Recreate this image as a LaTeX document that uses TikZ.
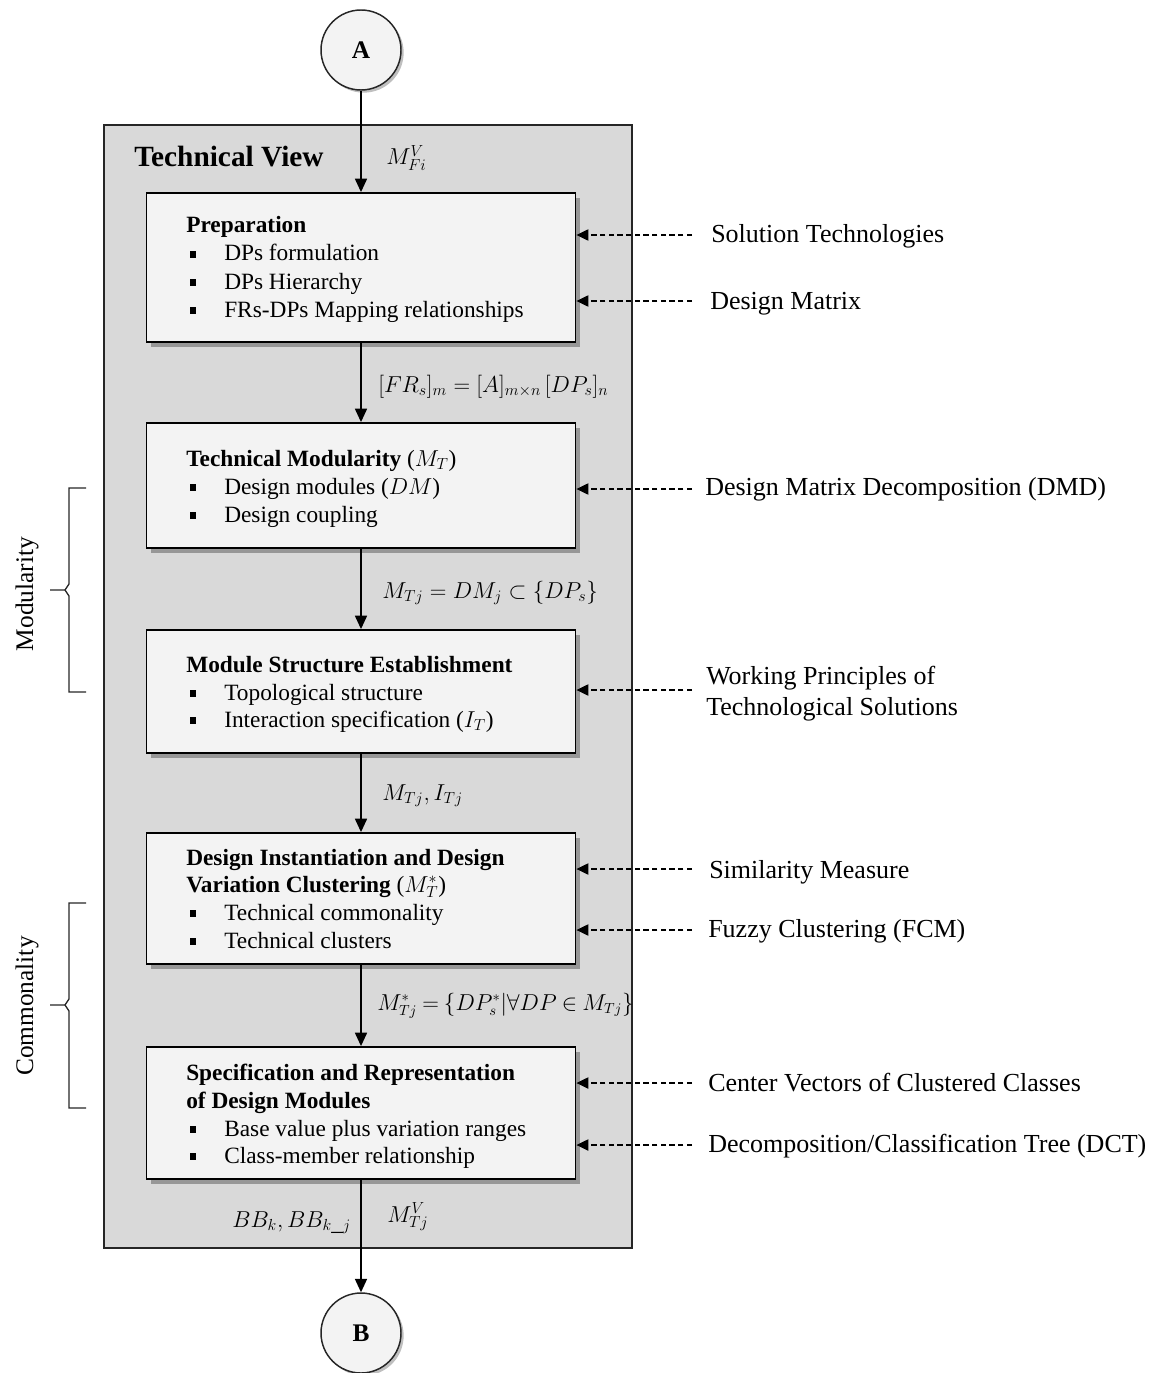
\documentclass[tikz,border=0pt]{standalone}
\usepackage{fontspec}
\setmainfont{Liberation Serif}
\usetikzlibrary{arrows.meta,shadows}
\definecolor{outerfill}{HTML}{D9D9D9}
\definecolor{boxfill}{HTML}{F3F3F3}
\newcommand\bl{\makebox[28.5pt][l]{\hspace*{3pt}\rule[2.5pt]{4.5pt}{5pt}}}
\begin{document}
\begin{tikzpicture}[x=0.75pt,y=-0.75pt,
 outerbox/.style={draw=black!85, line width=1.1pt, fill=outerfill, inner sep=0pt},
 stepbox/.style={draw=black, line width=1.4pt, fill=boxfill, inner sep=0pt, minimum width=321.75pt,
   drop shadow={shadow xshift=3.5pt, shadow yshift=-3.5pt, fill=black, opacity=0.3}},
 conn/.style={draw=black!85, circle, line width=1.1pt, fill=boxfill, minimum size=60pt, inner sep=0pt,
   font=\fontsize{19}{22}\selectfont\bfseries,
   drop shadow={shadow xshift=2pt, shadow yshift=-2pt, fill=black, opacity=0.25}},
 txt/.style={inner sep=0pt, anchor=base west, font=\fontsize{17.5}{21}\selectfont},
 ttl/.style={inner sep=0pt, anchor=base west, font=\fontsize{17.5}{21}\selectfont\bfseries},
 rlab/.style={inner sep=0pt, anchor=base west, font=\fontsize{19.5}{23}\selectfont},
 slab/.style={inner sep=0pt, rotate=90, font=\fontsize{19}{22}\selectfont},
 flow/.style={line width=1.1pt, -{Triangle[length=10pt,width=9pt]}},
 feed/.style={line width=0.9pt, dash pattern=on 4pt off 2.5pt, -{Triangle[length=9pt,width=8.5pt]}},
 brk/.style={line width=1pt, black!85},
]
\useasboundingbox (0,0) rectangle (1158,1373);

% outer technical view box
\node[outerbox, minimum width=396pt, minimum height=842.25pt] (tv) at (368,686.5) {};
\node[inner sep=0pt, anchor=base west, font=\fontsize{22}{26}\selectfont\bfseries] (tvt) at (134,167) {Technical View};

% connectors A and B
\node[conn] (A) at (361,50) {A};
\node[conn] (B) at (361,1333) {B};

% step boxes
\node[stepbox, minimum height=111.75pt] (p1) at (361,267.5) {};
\node[stepbox, minimum height=93.75pt]  (p2) at (361,485.5) {};
\node[stepbox, minimum height=92.25pt]  (p3) at (361,691.5) {};
\node[stepbox, minimum height=98.25pt]  (p4) at (361,898.5) {};
\node[stepbox, minimum height=99pt]     (p5) at (361,1113) {};

% box texts
\node[ttl] (p1t)  at (186,233) {Preparation};
\node[txt] (p1a)  at (186,261) {\bl DPs formulation};
\node[txt] (p1b)  at (186,289) {\bl DPs Hierarchy};
\node[txt] (p1c)  at (186,317) {\bl FRs-DPs Mapping relationships};

\node[ttl] (p2t)  at (186,466) {Technical Modularity {\mdseries($M_T$)}};
\node[txt] (p2a)  at (186,494) {\bl Design modules ($DM$)};
\node[txt] (p2b)  at (186,522) {\bl Design coupling};

\node[ttl] (p3t)  at (186,672) {Module Structure Establishment};
\node[txt] (p3a)  at (186,700) {\bl Topological structure};
\node[txt] (p3b)  at (186,727) {\bl Interaction specification ($I_T$)};

\node[ttl] (p4t)  at (186,865) {Design Instantiation and Design};
\node[ttl] (p4u)  at (186,892) {Variation Clustering {\mdseries($M_T^{*}$)}};
\node[txt] (p4a)  at (186,920) {\bl Technical commonality};
\node[txt] (p4b)  at (186,948) {\bl Technical clusters};

\node[ttl] (p5t)  at (186,1080) {Specification and Representation};
\node[ttl] (p5u)  at (186,1108) {of Design Modules};
\node[txt] (p5a)  at (186,1136) {\bl Base value plus variation ranges};
\node[txt] (p5b)  at (186,1163) {\bl Class-member relationship};

% main flow
\draw[flow] (A) -- (p1);
\draw[flow] (p1) -- (p2);
\draw[flow] (p2) -- (p3);
\draw[flow] (p3) -- (p4);
\draw[flow] (p4) -- (p5);
\draw[flow] (p5) -- (B);

% flow labels
\node[txt] (l0) at (386,165)  {$M^V_{Fi}$};
\node[txt] (l1) at (378,392)  {$[FR_s]_m = [A]_{m\times n}\,[DP_s]_n$};
\node[txt] (l2) at (382,598)  {$M_{Tj} = DM_j \subset \{DP_s\}$};
\node[txt] (l3) at (382,800)  {$M_{Tj}, I_{Tj}$};
\node[txt, font=\fontsize{16}{20}\selectfont] (l4) at (377,1010)
  {\thickmuskip=4mu $M^{*}_{Tj} = \bigl\{DP^{*}_s|\forall DP \in M_{Tj}\bigr\}$};
\node[txt] (l5) at (232,1227) {$BB_k, BB_{k\_j}$};
\node[txt] (l6) at (387,1222) {$M^V_{Tj}$};

% right-hand inputs
\coordinate (f1) at (692,235);
\coordinate (f2) at (692,301);
\coordinate (f3) at (692,489);
\coordinate (f4) at (692,690);
\coordinate (f5) at (692,869);
\coordinate (f6) at (692,930);
\coordinate (f7) at (692,1083);
\coordinate (f8) at (692,1145);
\draw[feed] (f1) -- (f1 -| p1.east);
\draw[feed] (f2) -- (f2 -| p1.east);
\draw[feed] (f3) -- (f3 -| p2.east);
\draw[feed] (f4) -- (f4 -| p3.east);
\draw[feed] (f5) -- (f5 -| p4.east);
\draw[feed] (f6) -- (f6 -| p4.east);
\draw[feed] (f7) -- (f7 -| p5.east);
\draw[feed] (f8) -- (f8 -| p5.east);

\node[rlab] (r1)  at (711,243)  {Solution Technologies};
\node[rlab] (r2)  at (710,309)  {Design Matrix};
\node[rlab] (r3)  at (705,495)  {Design Matrix Decomposition (DMD)};
\node[rlab] (r4a) at (706,684)  {Working Principles of};
\node[rlab] (r4b) at (706,715)  {Technological Solutions};
\node[rlab] (r5)  at (709,878)  {Similarity Measure};
\node[rlab] (r6)  at (708,937)  {Fuzzy Clustering (FCM)};
\node[rlab] (r7)  at (708,1091) {Center Vectors of Clustered Classes};
\node[rlab] (r8)  at (708,1152) {Decomposition/Classification Tree (DCT)};

% left brackets
\draw[brk] (86,488) -- (69,488) -- (69,584) -- (65,590) -- (50,590);
\draw[brk] (65,590) -- (69,596) -- (69,692) -- (86,692);
\node[slab] (mod) at (27,594) {Modularity};

\draw[brk] (86,903) -- (69,903) -- (69,999) -- (65,1005) -- (50,1005);
\draw[brk] (65,1005) -- (69,1011) -- (69,1108) -- (86,1108);
\node[slab] (com) at (27,1006) {Commonality};
\end{tikzpicture}
\end{document}
